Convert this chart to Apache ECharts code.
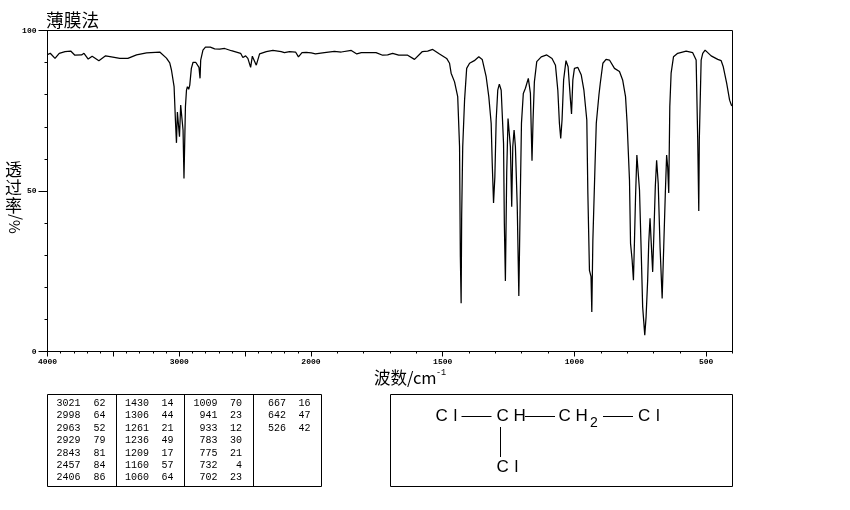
<!DOCTYPE html>
<html><head><meta charset="utf-8">
<style>html,body{margin:0;padding:0;background:#fff}#c{width:850px;height:510px}</style>
<script src="https://cdn.jsdelivr.net/npm/echarts@6/dist/echarts.min.js"></script>
</head><body><div id="c"></div>
<script>
const wavenumbers = [4000,3994,3979,3943,3911,3867,3824,3792,3741,3723,3691,3661,3610,3559,3504,3451,3390,3324,3248,3148,3097,3072,3059,3039,3029,3021,3014,3006,2998,2989,2979,2971,2964,2953,2945,2938,2928,2920,2908,2895,2875,2850,2842,2837,2820,2801,2764,2731,2693,2655,2604,2534,2517,2496,2479,2458,2445,2433,2415,2403,2390,2339,2289,2226,2201,2163,2117,2095,2068,2036,1999,1983,1949,1911,1885,1847,1826,1809,1753,1728,1709,1690,1667,1633,1607,1578,1557,1538,1512,1485,1474,1468,1455,1443,1436,1433,1430,1428,1424,1417,1409,1398,1380,1363,1350,1335,1325,1316,1312,1307,1302,1297,1291,1285,1278,1269,1266,1262,1257,1252,1247,1243,1238,1234,1229,1224,1217,1211,1206,1201,1194,1186,1175,1167,1164,1161,1157,1152,1143,1126,1105,1085,1072,1063,1057,1052,1047,1041,1032,1024,1015,1011,1006,1000,987,974,964,953,949,943,937,934,930,922,917,907,902,892,880,867,848,829,817,806,800,791,787,781,776,772,768,763,758,753,746,741,733,728,722,718,713,709,703,698,693,688,682,675,667,661,655,650,646,642,638,633,624,608,576,551,538,532,528,526,519,513,504,481,456,443,435,422,411,404,400];
const transmittance = [92.5,92.7,92.9,91.3,92.9,93.4,93.6,92.3,92.4,92.9,91.1,92.0,90.6,92.1,91.7,91.3,91.3,92.4,93.0,93.3,91.4,89.9,87.7,82.5,72.1,65.0,74.6,74.6,66.9,76.8,77.1,69.0,53.9,76.2,81.4,82.5,81.7,83.0,88.2,90.1,90.1,88.5,85.1,90.8,93.9,94.8,94.8,94.3,94.2,94.4,93.7,92.9,91.6,92.1,91.3,88.5,92.0,92.1,89.2,89.2,92.7,93.4,93.8,93.4,93.1,93.4,93.3,91.8,93.1,93.2,93.0,92.7,93.1,93.5,93.3,93.8,92.7,93.1,93.1,92.3,92.4,92.9,92.3,92.3,91.0,93.4,93.6,94.1,92.7,91.3,89.8,86.7,84.0,79.4,63.8,29.5,15.0,42.0,63.8,78.3,88.2,89.8,90.6,91.8,91.0,85.6,79.4,71.1,58.7,46.3,54.4,72.1,81.4,83.3,81.4,64.8,39.9,22.0,55.6,72.6,72.1,63.8,45.1,63.8,69.0,63.8,45.1,17.3,45.1,71.1,80.4,82.0,85.1,80.4,69.5,59.4,72.1,84.0,90.3,91.8,92.4,91.3,89.2,81.4,71.1,66.4,72.1,84.6,90.6,88.7,78.3,74.0,84.6,88.2,88.5,86.1,81.4,72.1,49.2,25.3,23.3,12.3,34.7,57.5,71.1,79.9,83.5,89.8,91.0,90.8,88.2,87.2,84.6,79.4,71.1,53.4,33.7,28.5,22.2,34.7,48.2,61.2,61.2,50.3,29.5,13.9,5.1,10.8,22.2,33.7,41.5,34.7,24.8,37.8,51.3,59.6,52.4,32.6,16.5,32.6,49.2,61.2,57.5,49.4,76.2,86.7,91.8,92.9,93.6,93.1,90.8,65.9,43.8,65.9,90.8,92.9,93.9,92.1,91.0,90.6,88.7,83.5,78.3,76.7,76.5];
const xMajorTicks = [4000,3500,3000,2500,2000,1500,1000,500];
const xLabelTicks = [4000,3000,2000,1500,1000,500];
const xMinorTicks = [3900,3800,3700,3600,3400,3300,3200,3100,2900,2800,2700,2600,2400,2300,2200,2100,1900,1800,1700,1600,1400,1300,1200,1100,900,800,700,600,400];
const yMajorTicks = [0,50,100];
const yMinorTicks = [10,20,30,40,60,70,80,90];
const peakColumns = [
  [["3021","62"],["2998","64"],["2963","52"],["2929","79"],["2843","81"],["2457","84"],["2406","86"]],
  [["1430","14"],["1306","44"],["1261","21"],["1236","49"],["1209","17"],["1160","57"],["1060","64"]],
  [["1009","70"],["941","23"],["933","12"],["783","30"],["775","21"],["732","4"],["702","23"]],
  [["667","16"],["642","47"],["526","42"]]
];
const titleText = "薄膜法";
const xAxisTitle = "波数/cm";
const yAxisChars = ["透","过","率"];

// The instrument's chart doubles its scale below 2000 cm-1.
const toAxis = w => w >= 2000 ? (4000 - w) / 2 : 1000 + (2000 - w);
const fromAxis = u => u <= 1000 ? 4000 - u * 2 : 2000 - (u - 1000);

const cjk = '"Noto Sans CJK SC"';
const mono = '"Liberation Mono"';
const ink = '#000';
const tx = (x, y, text, font, size, extra) => ({type:'text', x, y, silent:true,
  style:Object.assign({text, fill:ink, font:size+'px '+font, textAlign:'left', textVerticalAlign:'middle'}, extra||{})});
const ln = (x1,y1,x2,y2) => ({type:'line', silent:true, shape:{x1,y1,x2,y2}, style:{stroke:ink, lineWidth:1}});

const g = [];
g.push(tx(46, 20, titleText, cjk, 17.7));
yAxisChars.forEach((c,i)=>g.push(tx(13.5, 170+i*17.6, c, cjk, 17, {textAlign:'center'})));
g.push({type:'text', x:14, y:224, rotation:Math.PI/2, silent:true,
  style:{text:'%/', fill:ink, font:'15px '+cjk, textAlign:'center', textVerticalAlign:'middle'}});
g.push(tx(374, 378, xAxisTitle, cjk, 16.5));
g.push(tx(436, 373, '-1', mono, 8.5));

// peak table
g.push({type:'rect', silent:true, shape:{x:47.5,y:394.5,width:274,height:92}, style:{fill:'none',stroke:ink,lineWidth:1}});
[116.5,184.5,253.5].forEach(x=>g.push(ln(x,394.5,x,486.5)));
const colRight = [[80.5,105.5],[149,173.5],[217.5,242],[286,310.5]];
peakColumns.forEach((col,ci)=>col.forEach((row,ri)=>{
  const y = 403.5 + ri*12.35;
  g.push(tx(colRight[ci][0], y, row[0], mono, 10, {textAlign:'right'}));
  g.push(tx(colRight[ci][1], y, row[1], mono, 10, {textAlign:'right'}));
}));

// structure
g.push({type:'rect', silent:true, shape:{x:390.5,y:394.5,width:342,height:92}, style:{fill:'none',stroke:ink,lineWidth:1}});
const chem = '"Liberation Sans"';
const cl = (x,y)=>{ g.push(tx(x,y,'C',chem,17)); g.push(tx(x+18,y,'l',chem,17)); };
cl(435.5,416.5);
g.push(ln(461.5,416.5,491.5,416.5));
g.push(tx(496.5,416.5,'C',chem,17)); g.push(tx(513.5,416.5,'H',chem,17));
g.push(ln(525,416.5,555,416.5));
g.push(tx(558.5,416.5,'C',chem,17)); g.push(tx(575.5,416.5,'H',chem,17));
g.push(tx(590,423,'2',chem,14));
g.push(ln(603,416.5,633,416.5));
cl(638,416.5);
g.push(ln(500.5,427,500.5,457));
cl(496.5,467);

const baseX = {type:'value', min:0, max:2600, position:'bottom', splitLine:{show:false}, axisLine:{onZero:false, lineStyle:{color:ink,width:1}}};
const baseY = {type:'value', min:0, max:100, position:'left', splitLine:{show:false}, axisLine:{onZero:false, lineStyle:{color:ink,width:1}}};

const option = {
  animation:false,
  backgroundColor:'#fff',
  grid:{left:47.5, right:117.5, top:30.5, bottom:158.5, show:true, borderColor:ink, borderWidth:1, backgroundColor:'transparent'},
  xAxis:[
    Object.assign({}, baseX, {
      axisTick:{show:true, length:5, inside:false, lineStyle:{color:ink,width:1}, customValues:xMajorTicks.map(toAxis)},
      axisLabel:{show:true, margin:6, color:ink, fontFamily:mono, fontSize:8, fontWeight:'bold', hideOverlap:false,
        showMinLabel:true, showMaxLabel:true,
        customValues:xLabelTicks.map(toAxis), formatter:v=>String(Math.round(fromAxis(v)))}
    }),
    Object.assign({}, baseX, {
      axisTick:{show:true, length:2, inside:false, lineStyle:{color:ink,width:1}, customValues:xMinorTicks.map(toAxis)},
      axisLabel:{show:false}
    })
  ],
  yAxis:[
    Object.assign({}, baseY, {
      axisTick:{show:true, length:9, lineStyle:{color:ink,width:1}, customValues:yMajorTicks},
      axisLabel:{show:true, margin:11, color:ink, fontFamily:mono, fontSize:8, fontWeight:'bold', customValues:yMajorTicks}
    }),
    Object.assign({}, baseY, {
      axisTick:{show:true, length:3, lineStyle:{color:ink,width:1}, customValues:yMinorTicks},
      axisLabel:{show:false}
    })
  ],
  series:[{
    type:'line', xAxisIndex:0, yAxisIndex:0, showSymbol:false, symbol:'none', smooth:false, silent:true,
    lineStyle:{color:ink, width:1.25}, clip:true,
    data:wavenumbers.map((w,i)=>[toAxis(w), transmittance[i]])
  }],
  graphic:g
};
const chart = echarts.init(document.getElementById('c'), null, {renderer:'canvas', width:850, height:510});
chart.setOption(option);
</script></body></html>
